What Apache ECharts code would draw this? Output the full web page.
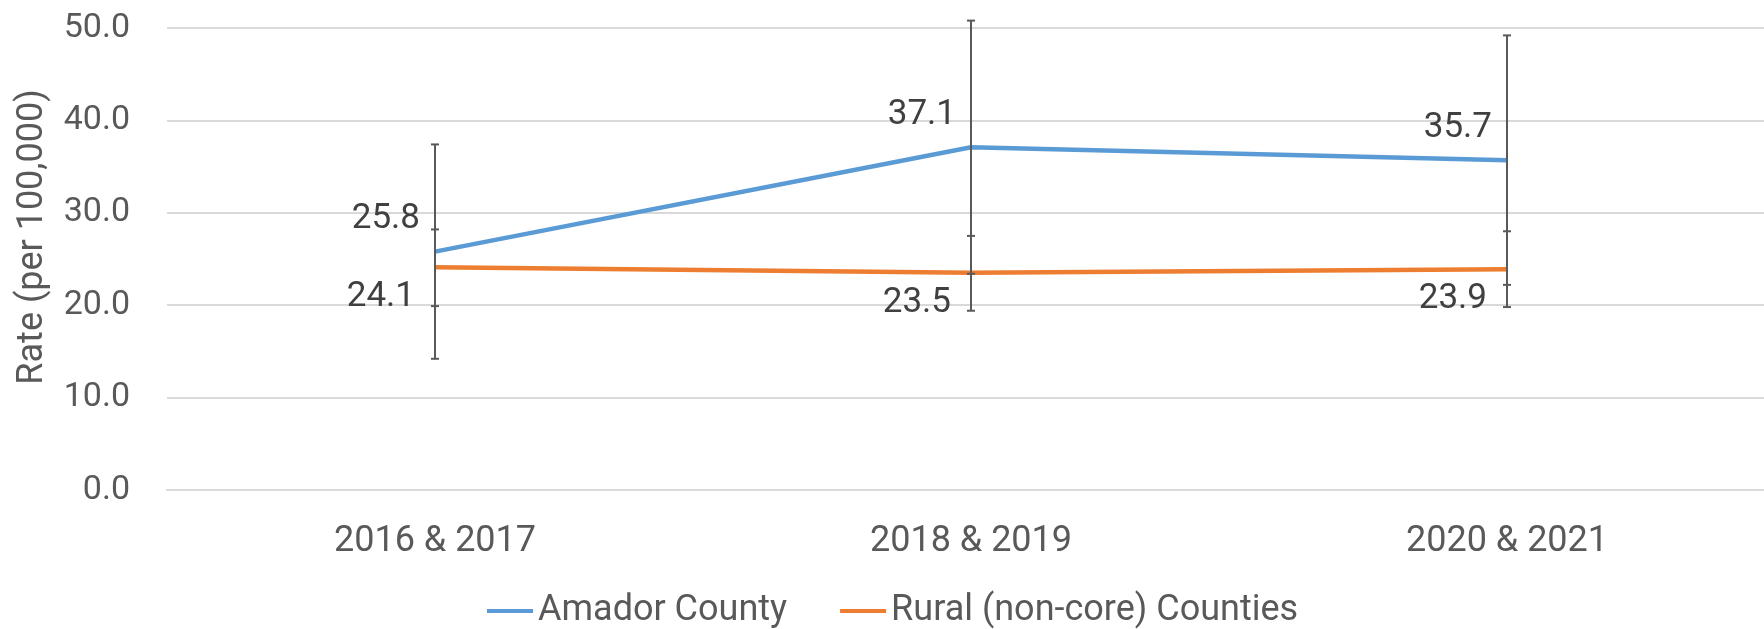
<!DOCTYPE html>
<html>
<head>
<meta charset="utf-8">
<title>Rate chart</title>
<script src="https://cdn.jsdelivr.net/npm/echarts@6/dist/echarts.min.js"></script>
<style>
  html, body { margin: 0; padding: 0; background: #fff; }
  #main { width: 1764px; height: 629px; }
</style>
</head>
<body>
<div id="main"></div>
<script>
var categories = ["2016 & 2017", "2018 & 2019", "2020 & 2021"];
var amador = [25.8, 37.1, 35.7];
var amadorLow = [14.2, 23.4, 22.2];
var amadorHigh = [37.4, 50.8, 49.2];
var rural = [24.1, 23.5, 23.9];
var ruralLow = [19.9, 19.4, 19.8];
var ruralHigh = [28.2, 27.5, 28.0];
var yTicks = [0, 10, 20, 30, 40, 50];

var font = "Roboto";
var grey = "#595959";

function errorData(low, high) {
  return categories.map(function (c, i) {
    return [i, low[i], high[i]];
  });
}

function renderError(params, api) {
  var x = api.value(0);
  var lo = api.coord([x, api.value(1)]);
  var hi = api.coord([x, api.value(2)]);
  var cap = 4;
  var style = { stroke: grey, lineWidth: 2 };
  return {
    type: "group",
    children: [
      { type: "line", shape: { x1: lo[0], y1: lo[1], x2: hi[0], y2: hi[1] }, style: style },
      { type: "line", shape: { x1: lo[0] - cap, y1: lo[1], x2: lo[0] + cap, y2: lo[1] }, style: style },
      { type: "line", shape: { x1: hi[0] - cap, y1: hi[1], x2: hi[0] + cap, y2: hi[1] }, style: style }
    ]
  };
}

function oneDecimal(p) {
  return p.value.toFixed(1);
}

var labelStyle = { show: true, position: "left", fontFamily: font, fontSize: 35, color: "#404040", formatter: oneDecimal };

var option = {
  animation: false,
  grid: { left: 167, right: -11, top: 28, bottom: 139, outerBoundsMode: "none", containLabel: false },
  legend: {
    data: ["Amador County", "Rural (non-core) Counties"],
    left: 482,
    top: 588,
    itemWidth: 46,
    itemHeight: 4,
    itemGap: 53,
    icon: "rect",
    textStyle: { fontFamily: font, fontSize: 36, color: grey }
  },
  xAxis: {
    type: "category",
    data: categories,
    axisLine: { lineStyle: { color: "#d9d9d9", width: 2 } },
    axisTick: { show: false },
    axisLabel: { fontFamily: font, fontSize: 36, color: grey, margin: 34 }
  },
  yAxis: {
    type: "value",
    min: yTicks[0],
    max: yTicks[yTicks.length - 1],
    interval: 10,
    name: "Rate (per 100,000)",
    nameLocation: "middle",
    nameGap: 116,
    nameTextStyle: { fontFamily: font, fontSize: 36, color: grey, padding: [0, 0, 0, 44] },
    axisLabel: {
      fontFamily: font, fontSize: 34, color: grey, margin: 37,
      formatter: function (v) { return v.toFixed(1); }
    },
    splitLine: { lineStyle: { color: "#d9d9d9", width: 2 } }
  },
  series: [
    {
      name: "Amador County",
      type: "line",
      data: amador,
      symbol: "circle",
      symbolSize: 0,
      showSymbol: true,
      color: "#5b9bd5",
      lineStyle: { width: 4.5 },
      label: Object.assign({}, labelStyle, { offset: [-10, -32] })
    },
    {
      name: "Rural (non-core) Counties",
      type: "line",
      data: rural,
      symbol: "circle",
      symbolSize: 0,
      showSymbol: true,
      color: "#ed7d31",
      lineStyle: { width: 4.5 },
      label: Object.assign({}, labelStyle, { offset: [-15, 30] })
    },
    {
      type: "custom",
      renderItem: renderError,
      data: errorData(amadorLow, amadorHigh),
      z: 5
    },
    {
      type: "custom",
      renderItem: renderError,
      data: errorData(ruralLow, ruralHigh),
      z: 5
    }
  ]
};

var myChart = echarts.init(document.getElementById("main"));
myChart.setOption(option);
</script>
</body>
</html>
